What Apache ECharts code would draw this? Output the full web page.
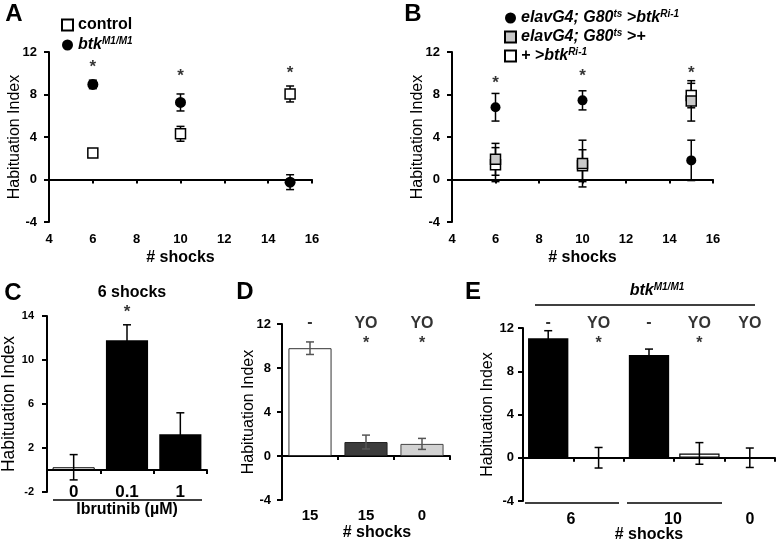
<!DOCTYPE html>
<html><head><meta charset="utf-8">
<script src="https://cdn.jsdelivr.net/npm/echarts@6/dist/echarts.min.js"></script>
<style>html,body{margin:0;padding:0;background:#fff}#c{width:780px;height:543px}</style>
</head><body><div id="c"></div><script>
const FONT = '"Liberation Sans", Arial, Helvetica, sans-serif';

// ---------- Panel A ----------
const shocksA = [6, 10, 15];
const controlA = [2.5, 4.3, 8.05];
const controlErrA = [0.3, 0.7, 0.75];
const btkA = [8.95, 7.25, -0.25];
const btkErrA = [0.4, 0.8, 0.7];
const starsA = [10.6, 9.7, 10.0];

// ---------- Panel B ----------
const shocksB = [6, 10, 15];
const rnaiB = [6.8, 7.45, 1.8];
const rnaiErrB = [1.3, 0.9, 1.9];
const g80B = [1.9, 1.5, 7.4];
const g80ErrB = [1.5, 2.2, 1.9];
const uasB = [1.4, 1.3, 7.9];
const uasErrB = [1.6, 1.5, 1.15];
const starsB = [9.1, 9.75, 10.0];

// ---------- Panel C ----------
const catsC = ['0', '0.1', '1'];
const valsC = [0.25, 11.8, 3.25];
const errC = [1.15, 1.4, 1.95];
const starsC = [null, 14.3, null];

// ---------- Panel D ----------
const catsD = ['15', '15', '0'];
const valsD = [9.8, 1.27, 1.1];
const errD = [0.57, 0.63, 0.5];
const treatD = ['-', 'YO', 'YO'];
const treatYD = [12.1, 12, 12];
const starsD = [null, 10.25, 10.25];

// ---------- Panel E ----------
const catsE = ['6', '6', '10', '10', '0'];
const valsE = [11.05, 0, 9.5, 0.4, 0];
const errE = [0.7, 0.95, 0.55, 1.0, 0.9];
const treatE = ['-', 'YO', '-', 'YO', 'YO'];
const treatYE = [12.5, 12.45, 12.5, 12.45, 12.45];
const starsE = [null, 10.6, null, 10.6, null];
const groupLabelsE = ['6', '10', '0'];

// ---------- helpers ----------
const black = '#000';
const axLine = {show: true, onZero: true, lineStyle: {color: black, width: 2}};
const yLine = {show: true, onZero: false, lineStyle: {color: black, width: 2}};
const lbl = (size, margin) => ({color: black, fontFamily: FONT, fontWeight: 'bold', fontSize: size, margin});
const nameStyle = (size, weight) => ({color: black, fontFamily: FONT, fontWeight: weight, fontSize: size});

function valueX(gi) {
  return {gridIndex: gi, type: 'value', min: 4, max: 16, interval: 2,
    axisLine: axLine, axisTick: {show: true, length: 4, lineStyle: {color: black, width: 2}},
    axisLabel: lbl(13, 11), splitLine: {show: false}, nameMoveOverlap: false,
    name: '# shocks', nameLocation: 'middle', nameGap: 28, nameTextStyle: nameStyle(16, 'bold')};
}
function catX(gi, cats, label, name, nameGap, namePad) {
  return {gridIndex: gi, type: 'category', data: cats,
    axisLine: axLine, axisTick: {show: true, length: 4, lineStyle: {color: black, width: 2}},
    axisLabel: Object.assign({color: black, fontFamily: FONT, fontWeight: 'bold'}, label), splitLine: {show: false},
    nameMoveOverlap: false,
    name, nameLocation: 'middle', nameGap, nameTextStyle: Object.assign(nameStyle(16, 'bold'), {padding: namePad || 0})};
}
function valueY(gi, min, max, interval, size, margin, nameGap, nameSize) {
  return {gridIndex: gi, type: 'value', min, max, interval,
    axisLine: yLine, axisTick: {show: true, inside: false, length: 5, lineStyle: {color: black, width: 2}},
    axisLabel: lbl(size, margin), splitLine: {show: false}, nameMoveOverlap: false,
    name: 'Habituation Index', nameLocation: 'middle', nameGap, nameTextStyle: nameStyle(nameSize, 'normal')};
}
function errSeries(axis, xs, means, errs, color) {
  return {type: 'custom', xAxisIndex: axis, yAxisIndex: axis, silent: true, z: 4,
    encode: {x: 0, y: [1, 2]},
    data: xs.map((x, i) => [x, means[i] - errs[i], means[i] + errs[i]]),
    renderItem(params, api) {
      const lo = api.coord([api.value(0), api.value(1)]);
      const hi = api.coord([api.value(0), api.value(2)]);
      const cw = 4;
      const st = {stroke: color, lineWidth: 1.5};
      return {type: 'group', children: [
        {type: 'line', shape: {x1: lo[0], y1: lo[1], x2: hi[0], y2: hi[1]}, style: st},
        {type: 'line', shape: {x1: lo[0] - cw, y1: lo[1], x2: lo[0] + cw, y2: lo[1]}, style: st},
        {type: 'line', shape: {x1: hi[0] - cw, y1: hi[1], x2: hi[0] + cw, y2: hi[1]}, style: st}
      ]};
    }};
}
function textSeries(axis, xs, ys, texts, size) {
  const data = [];
  xs.forEach((x, i) => { if (ys[i] != null) data.push({value: [x, ys[i]], label: {formatter: texts[i]}}); });
  return {type: 'scatter', xAxisIndex: axis, yAxisIndex: axis, silent: true, clip: false, z: 10,
    symbolSize: 1, itemStyle: {color: 'rgba(0,0,0,0)'}, data,
    label: {show: true, position: 'inside', color: black, fontFamily: FONT, fontWeight: 'bold', fontSize: size}};
}
const pts = (xs, ys) => xs.map((x, i) => [x, ys[i]]);
const idx = (arr) => arr.map((_, i) => i);

const sq = (fill, size) => ({type: 'scatter', symbol: 'rect', symbolSize: size,
  itemStyle: {color: fill, borderColor: black, borderWidth: 1.5, opacity: 1}});
const dot = (size) => ({type: 'scatter', symbol: 'circle', symbolSize: size, itemStyle: {color: black, opacity: 1}});

const supRich = {
  b: {fontFamily: FONT, fontWeight: 'bold', fontSize: 16, color: black, lineHeight: 18},
  bi: {fontFamily: FONT, fontWeight: 'bold', fontStyle: 'italic', fontSize: 16, color: black, lineHeight: 18},
  sup: {fontFamily: FONT, fontWeight: 'bold', fontStyle: 'italic', fontSize: 10, color: black, verticalAlign: 'top', lineHeight: 18, padding: [0, 0, 6, 0]}
};
const legendText = {
  control: '{b|control}',
  btk: '{bi|btk}{sup|M1/M1}',
  rnai: '{bi|elavG4; G80}{sup|ts}{bi| >btk}{sup|Ri-1}',
  g80: '{bi|elavG4; G80}{sup|ts}{bi| >+}',
  uas: '{bi|+ >btk}{sup|Ri-1}'
};

const barC = valsC.map((v, i) => ({value: v, itemStyle: i === 0 ? {color: '#fff', borderColor: black, borderWidth: 1} : {color: black}}));
const dStyles = [{color: '#fff', borderColor: '#333', borderWidth: 1}, {color: '#3c3c3c', borderColor: '#222', borderWidth: 1}, {color: '#d2d2d2', borderColor: '#444', borderWidth: 1}];
const barD = valsD.map((v, i) => ({value: v, itemStyle: dStyles[i]}));
const barE = valsE.map((v, i) => ({value: v, itemStyle: treatE[i] === '-' ? {color: black} : {color: '#fff', borderColor: black, borderWidth: 1.2}}));

const G = (left, top, width, height) => ({left, top, width, height, containLabel: false, outerBoundsMode: 'none'});
const option = {
  animation: false,
  backgroundColor: '#fff',
  textStyle: {fontFamily: FONT},
  grid: [
    G(49, 52, 263, 170),
    G(452, 52, 261, 170),
    G(47, 316, 160, 176),
    G(282, 324, 168, 176),
    G(523, 328, 252, 173)
  ],
  xAxis: [
    valueX(0),
    valueX(1),
    catX(2, catsC, {fontSize: 17, margin: 0, verticalAlign: 'middle'}, 'Ibrutinib (µM)', 10),
    catX(3, catsD, {fontSize: 15, margin: 8}, '# shocks', 25, [0, 0, 0, 22]),
    catX(4, catsE, {fontSize: 16, margin: 8, show: false}, '# shocks', 26, [0, 0, 0, 0])
  ],
  yAxis: [
    valueY(0, -4, 12, 4, 13, 12, 26, 16),
    valueY(1, -4, 12, 4, 13, 12, 26, 16),
    valueY(2, -2, 14, 4, 11, 13, 29, 17.5),
    valueY(3, -4, 12, 4, 13, 11, 25, 16),
    valueY(4, -4, 12, 4, 13, 9, 27, 16)
  ],
  legend: [
    {orient: 'vertical', left: 56, top: 12, itemWidth: 11, itemHeight: 11, itemGap: 3, selectedMode: false,
      data: ['control', 'btk'], formatter: n => legendText[n], textStyle: {rich: supRich}},
    {orient: 'vertical', left: 499, top: 4, itemWidth: 11, itemHeight: 11, itemGap: 2, selectedMode: false,
      data: ['rnai', 'g80', 'uas'], formatter: n => legendText[n], textStyle: {rich: supRich}}
  ],
  series: [
    // A
    errSeries(0, shocksA, controlA, controlErrA, black),
    errSeries(0, shocksA, btkA, btkErrA, black),
    Object.assign(sq('#fff', 10), {name: 'control', xAxisIndex: 0, yAxisIndex: 0, z: 6, data: pts(shocksA, controlA)}),
    Object.assign(dot(11), {name: 'btk', xAxisIndex: 0, yAxisIndex: 0, z: 6, data: pts(shocksA, btkA)}),
    textSeries(0, shocksA, starsA, ['*', '*', '*'], 17),
    // B
    errSeries(1, shocksB, rnaiB, rnaiErrB, black),
    errSeries(1, shocksB, g80B, g80ErrB, black),
    errSeries(1, shocksB, uasB, uasErrB, black),
    Object.assign(dot(10), {name: 'rnai', xAxisIndex: 1, yAxisIndex: 1, z: 6, data: pts(shocksB, rnaiB)}),
    Object.assign(sq('#fff', 10), {name: 'uas', xAxisIndex: 1, yAxisIndex: 1, z: 6, data: pts(shocksB, uasB)}),
    Object.assign(sq('#c8c8c8', 10), {name: 'g80', xAxisIndex: 1, yAxisIndex: 1, z: 7, data: pts(shocksB, g80B)}),
    textSeries(1, shocksB, starsB, ['*', '*', '*'], 17),
    // C
    {type: 'bar', xAxisIndex: 2, yAxisIndex: 2, barCategoryGap: '21%', data: barC, z: 2},
    errSeries(2, idx(catsC), valsC, errC, black),
    textSeries(2, idx(catsC), starsC, ['*', '*', '*'], 17),
    // D
    {type: 'bar', xAxisIndex: 3, yAxisIndex: 3, barCategoryGap: '23%', data: barD, z: 2},
    errSeries(3, idx(catsD), valsD, errD, '#555'),
    textSeries(3, idx(catsD), treatYD, treatD, 16),
    textSeries(3, idx(catsD), starsD, ['*', '*', '*'], 16),
    // E
    {type: 'bar', xAxisIndex: 4, yAxisIndex: 4, barCategoryGap: '20%', data: barE, z: 2},
    errSeries(4, idx(catsE), valsE, errE, black),
    textSeries(4, idx(catsE), treatYE, treatE, 16),
    textSeries(4, idx(catsE), starsE, ['*', '*', '*', '*', '*'], 16)
  ],
  graphic: [
    {type: 'text', style: {x: 14, y: 14, text: 'A', font: 'bold 24px ' + FONT, fill: black, align: 'center', verticalAlign: 'middle'}},
    {type: 'text', style: {x: 413, y: 14, text: 'B', font: 'bold 24px ' + FONT, fill: black, align: 'center', verticalAlign: 'middle'}},
    {type: 'text', style: {x: 13, y: 293, text: 'C', font: 'bold 24px ' + FONT, fill: black, align: 'center', verticalAlign: 'middle'}},
    {type: 'text', style: {x: 245, y: 292, text: 'D', font: 'bold 24px ' + FONT, fill: black, align: 'center', verticalAlign: 'middle'}},
    {type: 'text', style: {x: 473, y: 292, text: 'E', font: 'bold 24px ' + FONT, fill: black, align: 'center', verticalAlign: 'middle'}},
    {type: 'text', style: {x: 132, y: 293, text: '6 shocks', font: 'bold 16px ' + FONT, fill: black, align: 'center', verticalAlign: 'middle'}},
    {type: 'line', shape: {x1: 53, y1: 500, x2: 202, y2: 500}, style: {stroke: black, lineWidth: 1.5}},
    {type: 'text', style: {x: 657, y: 291, text: '{bi|btk}{sup|M1/M1}', rich: supRich, align: 'center', verticalAlign: 'middle'}},
    {type: 'line', shape: {x1: 535, y1: 305, x2: 755, y2: 305}, style: {stroke: black, lineWidth: 1.5}},
    {type: 'line', shape: {x1: 525, y1: 503, x2: 619, y2: 503}, style: {stroke: black, lineWidth: 1.5}},
    {type: 'line', shape: {x1: 627, y1: 503, x2: 722, y2: 503}, style: {stroke: black, lineWidth: 1.5}},
    {type: 'text', style: {x: 571, y: 520, text: groupLabelsE[0], font: 'bold 16px ' + FONT, fill: black, align: 'center', verticalAlign: 'middle'}},
    {type: 'text', style: {x: 673, y: 520, text: groupLabelsE[1], font: 'bold 16px ' + FONT, fill: black, align: 'center', verticalAlign: 'middle'}},
    {type: 'text', style: {x: 750, y: 520, text: groupLabelsE[2], font: 'bold 16px ' + FONT, fill: black, align: 'center', verticalAlign: 'middle'}}
  ]
};
const chart = echarts.init(document.getElementById('c'), null, {renderer: 'canvas'});
chart.setOption(option);
</script></body></html>
